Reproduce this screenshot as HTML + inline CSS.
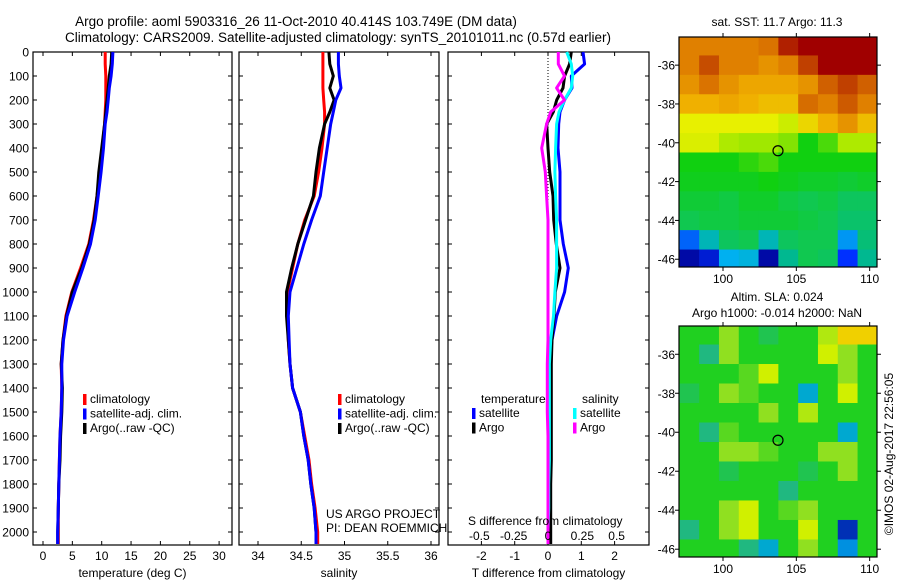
<!DOCTYPE html>
<html><head><meta charset="utf-8">
<style>
html,body{margin:0;padding:0;background:#fff;}
svg{display:block;font-family:"Liberation Sans",sans-serif;}
text{font-size:12px;fill:#000;}
</style></head>
<body>
<svg id="fig" width="900" height="580" viewBox="0 0 900 580">
<text x="296" y="26" text-anchor="middle" style="font-size:13.5px">Argo profile: aoml 5903316_26 11-Oct-2010 40.414S 103.749E (DM data)</text>
<text x="338" y="42" text-anchor="middle" style="font-size:13.5px">Climatology: CARS2009. Satellite-adjusted climatology: synTS_20101011.nc (0.57d earlier)</text>
<g id="g1"></g>
<g id="g2"></g>
<g id="g3"></g>
<g id="m1"></g>
<g id="m2"></g>
<text x="777" y="26" text-anchor="middle">sat. SST: 11.7 Argo: 11.3</text>
<text x="777" y="301" text-anchor="middle">Altim. SLA: 0.024</text>
<text x="777" y="317" text-anchor="middle">Argo h1000: -0.014 h2000: NaN</text>
<text transform="translate(893,454) rotate(-90)" text-anchor="middle">©IMOS 02-Aug-2017 22:56:05</text>
</svg>
<script>
// ---- profile data ----
const depths = [0,50,100,150,200,250,300,400,500,600,700,800,900,1000,1100,1200,1300,1400,1500,1600,1700,1800,1900,2000,2050];
const tempClim = [10.6,10.6,10.7,10.7,10.7,10.6,10.5,10.1,9.7,9.2,8.6,7.8,6.4,4.9,3.9,3.4,3.1,3.2,3.1,2.9,2.8,2.7,2.6,2.6,2.6];
const tempSat  = [11.9,11.8,11.6,11.3,11.1,10.9,10.6,10.3,9.9,9.4,8.9,8.1,6.8,5.4,4.1,3.5,3.2,3.2,3.1,2.9,2.8,2.7,2.6,2.5,2.5];
const tempArgo = [11.7,11.6,11.3,11.1,10.9,10.7,10.5,10.0,9.5,9.2,8.7,7.9,6.6,5.0,4.0,3.4,3.1,3.3,3.2,3.0,2.9,2.7,2.6,2.5,2.5];
const salClim = [34.75,34.75,34.75,34.75,34.76,34.77,34.77,34.74,34.70,34.65,34.54,34.46,34.40,34.34,34.34,34.35,34.37,34.40,34.49,34.54,34.59,34.62,34.66,34.69,34.69];
const salSat  = [34.93,34.93,34.94,34.96,34.90,34.87,34.84,34.80,34.76,34.72,34.62,34.53,34.45,34.37,34.35,34.36,34.37,34.40,34.49,34.53,34.58,34.61,34.65,34.67,34.67];
const salArgo = [34.82,34.83,34.87,34.83,34.88,34.83,34.77,34.71,34.67,34.64,34.55,34.46,34.39,34.33,34.33,34.35,34.37,34.40,34.49,34.53,34.58,34.61,34.65,34.67,34.67];
const dTsat  = [1.05,1.1,0.7,0.72,0.5,0.36,0.32,0.3,0.36,0.36,0.36,0.46,0.61,0.5,0.26,0.12,0.05,0.03,0.02,0.02,0.01,0.01,0.01,0.0,0.0];
const dTargo = [0.7,0.65,0.5,0.45,0.26,0.16,-0.04,0.0,0.05,0.15,0.17,0.25,0.36,0.22,0.18,0.12,0.1,0.1,0.1,0.1,0.1,0.08,0.08,0.08,0.08];
const dSsat  = [0.136,0.17,0.18,0.17,0.12,0.08,0.063,0.055,0.05,0.055,0.063,0.063,0.063,0.05,0.04,0.02,0.01,0.01,0.01,0.01,0.01,0.005,0.005,0.0,0.0];
const dSargo = [0.075,0.075,0.12,0.063,0.12,0.02,-0.01,-0.046,-0.02,-0.01,0.0,0.0,0.0,0.0,0.0,0.0,-0.005,-0.005,-0.005,0.0,0.0,0.0,0.0,0.0,0.0];
const depthTicks = [0,100,200,300,400,500,600,700,800,900,1000,1100,1200,1300,1400,1500,1600,1700,1800,1900,2000];
const tempTicks = [0,5,10,15,20,25,30];
const salTicks = [34,34.5,35,35.5,36];
const dTTicks = [-2,-1,0,1,2];
const dSTicks = [-0.5,-0.25,0,0.25,0.5];
// ---- map data (rows: lat -35..-46, cols: lon 97.7..109.8) ----
const mapLats = [-35,-36,-37,-38,-39,-40,-41,-42,-43,-44,-45,-46];
const mapLons = [97.7,99.05,100.4,101.75,103.1,104.45,105.8,107.15,108.5,109.85];
const sstGrid = [
 [13,13,13,13,13.2,14.5,15,15,15,15],
 [13,13.8,13,13,12.8,13,14,15,15,15],
 [12.8,13.2,12.8,12.6,12.6,12.6,12.8,13.5,14,13.5],
 [12.5,12.5,12.6,12.5,12.4,12.4,13.3,13,13.6,13],
 [12,12,12,12,12,11.8,12.2,12.5,12.8,12.4],
 [11.9,11.9,11.6,11.5,11.5,11.4,11,11.2,11.6,11.6],
 [11,11,11,11.1,11.2,11,11,11,11,11],
 [10.9,10.9,10.9,10.9,11,10.9,10.8,10.8,10.7,10.8],
 [10.7,10.7,10.6,10.8,10.8,10.6,10.5,10.6,10.4,10.4],
 [10.5,10.6,10.6,10.7,10.7,10.7,10.6,10.5,10.3,10.3],
 [9.2,9.8,10.4,10.5,9.8,10.4,10.5,10.5,9.4,10.2],
 [8.6,8.8,9.5,9.6,8.6,10,10.5,10.4,9,10]];
const slaGrid = [
 [0,0,0.1,0,-0.05,0,0,0.15,0.3,0.3],
 [0,-0.1,0.1,0,0,0,0,0.2,0.1,0],
 [0,0,0,0.05,0.2,0,0,0,0.1,0],
 [-0.05,0,0.1,0.05,0,0,-0.25,0,0.2,0],
 [0,0,0,0,0.1,0,0.15,0,0,0],
 [0,-0.1,0.05,0,0,0,0,0,-0.25,0],
 [0,0,0.1,0.1,0.05,0,0,0.1,0.1,0],
 [0,0,-0.05,0,0,0,-0.05,0,0.1,0],
 [0,0,0,0,0,-0.1,0,0,0,0],
 [0,0,0.1,0.2,0,0.05,0.1,0,0,0],
 [-0.1,0,0.1,0.2,0,0,0.2,0,-0.4,0],
 [0,0,0,-0.1,-0.25,0,0.1,0,-0.3,0]];
const argoLon = 103.75, argoLat = -40.41;
const lonTicks = [100,105,110];
const latTicks = [-36,-38,-40,-42,-44,-46];

const NS='http://www.w3.org/2000/svg';
function mk(parent,tag,attrs,txt){const e=document.createElementNS(NS,tag);for(const k in attrs)e.setAttribute(k,attrs[k]);if(txt!==undefined)e.textContent=txt;parent.appendChild(e);return e;}
const yD = d => 52 + d*0.24;
const PT=52, PB=545;

function panel(g,x0,x1,xs,xticks,xlabel,showDepth){
  const box=mk(g,'rect',{x:x0,y:PT,width:x1-x0,height:PB-PT,fill:'none',stroke:'#000','stroke-width':1.2});
  
  
  xticks.forEach(v=>{const x=xs(v);
    mk(g,'line',{x1:x,x2:x,y1:PT,y2:PT+4,stroke:'#000'});
    mk(g,'line',{x1:x,x2:x,y1:PB,y2:PB-4,stroke:'#000'});
    if(xlabel){const t=mk(g,'text',{x:x,y:560,'text-anchor':'middle'},String(v));
      
      }
  });
  depthTicks.forEach(d=>{const y=yD(d);
    mk(g,'line',{x1:x0,x2:x0+4,y1:y,y2:y,stroke:'#000'});
    mk(g,'line',{x1:x1,x2:x1-4,y1:y,y2:y,stroke:'#000'});
    if(showDepth){const t=mk(g,'text',{x:29,y:y+4.5,'text-anchor':'end'},String(d));
      
      }
  });
  if(xlabel){const t=mk(g,'text',{x:(x0+x1)/2,y:577,'text-anchor':'middle'},xlabel);
    
    }
}
function line(g,vals,xs,color,name,w){
  const pts=vals.map((v,i)=>xs(v).toFixed(1)+','+yD(depths[i]).toFixed(1)).join(' ');
  const p=mk(g,'polyline',{points:pts,fill:'none',stroke:color,'stroke-width':w||3,'stroke-linejoin':'round'});
  
  
}
function legend(g,x,y,items){
  items.forEach((it,i)=>{
    mk(g,'rect',{x:x,y:y+i*14.5-9,width:3.5,height:11,fill:it[1]});
    const t=mk(g,'text',{x:x+7,y:y+i*14.5},it[0]);
    
    
  });
}
// Panel 1
const g1=document.getElementById('g1');
const xT=v=>43+v*5.87;
panel(g1,33,232,xT,tempTicks,'temperature (deg C)',true);
line(g1,tempClim,xT,'#ff0000','temp-climatology-line');
line(g1,tempArgo,xT,'#000000','temp-argo-line');
line(g1,tempSat,xT,'#0000ff','temp-satellite-line');
legend(g1,83,403,[['climatology','#f00'],['satellite-adj. clim.','#00f'],['Argo(..raw -QC)','#000']]);
// Panel 2
const g2=document.getElementById('g2');
const xS=v=>258+(v-34)*86.5;
panel(g2,239,439,xS,salTicks,'salinity',false);
line(g2,salClim,xS,'#ff0000','sal-climatology-line');
line(g2,salArgo,xS,'#000000','sal-argo-line');
line(g2,salSat,xS,'#0000ff','sal-satellite-line');
legend(g2,338,403,[['climatology','#f00'],['satellite-adj. clim.','#00f'],['Argo(..raw -QC)','#000']]);
let t=mk(g2,'text',{x:326,y:518},'US ARGO PROJECT');


t=mk(g2,'text',{x:326,y:532},'PI: DEAN ROEMMICH');


// Panel 3
const g3=document.getElementById('g3');
const xDT=v=>548+v*33.3;
const xDS=v=>548+v*137.3;
panel(g3,448,649,xDT,dTTicks,'T difference from climatology',false);
mk(g3,'line',{x1:548,x2:548,y1:PT,y2:270,stroke:'#000','stroke-dasharray':'1,2'});
line(g3,dTsat,xDT,'#0000ff','dT-satellite-line');
line(g3,dTargo,xDT,'#000000','dT-argo-line',3);
line(g3,dSsat,xDS,'#00ffff','dS-satellite-line');
line(g3,dSargo,xDS,'#ff00ff','dS-argo-line');
t=mk(g3,'text',{x:468,y:525},'S difference from climatology');


dSTicks.forEach(v=>{const tt=mk(g3,'text',{x:xDS(v),y:540,'text-anchor':'middle'},String(v));
  
  });
t=mk(g3,'text',{x:481,y:403},'temperature');


t=mk(g3,'text',{x:582,y:403},'salinity');


legend(g3,472,417,[['satellite','#00f'],['Argo','#000']]);
legend(g3,573,417,[['satellite','#0ff'],['Argo','#f0f']]);

// Maps
function lerpColor(stops,v){
  if(v<=stops[0][0])return stops[0][1];
  for(let i=1;i<stops.length;i++){if(v<=stops[i][0]){const a=stops[i-1],b=stops[i];const f=(v-a[0])/(b[0]-a[0]);
    return [0,1,2].map(k=>Math.round(a[1][k]+(b[1][k]-a[1][k])*f));}}
  return stops[stops.length-1][1];
}
const sstStops=[[8.5,[0,0,144]],[9,[0,48,255]],[9.5,[0,176,240]],[10,[0,184,144]],[10.5,[16,200,80]],[11,[16,208,16]],[11.5,[160,232,0]],[12,[232,240,0]],[12.5,[240,176,0]],[13,[224,128,0]],[14,[192,64,0]],[15,[160,0,0]]];
const slaStops=[[-0.45,[0,0,160]],[-0.3,[0,144,224]],[-0.2,[0,192,192]],[-0.1,[32,184,128]],[0,[32,208,32]],[0.1,[144,224,32]],[0.2,[208,240,0]],[0.3,[240,208,0]]];
function map(id,top,bottom,grid,stops,cellName){
  const g=document.getElementById(id);
  const L=679,R=877,lon0=97.0,lon1=110.5,lat0=-34.55,lat1=-46.4;
  const xs=v=>L+(v-lon0)/(lon1-lon0)*(R-L);
  const ys=v=>top+(v-lat0)/(lat1-lat0)*(bottom-top);
  const dLon=mapLons[1]-mapLons[0];
  grid.forEach((row,r)=>row.forEach((v,c)=>{
    let xa=xs(mapLons[c]-dLon/2),xb=xs(mapLons[c]+dLon/2);
    let ya=ys(mapLats[r]+0.5),yb=ys(mapLats[r]-0.5);
    xa=Math.max(xa,L);xb=Math.min(xb,R);ya=Math.max(ya,top);yb=Math.min(yb,bottom);
    const col=lerpColor(stops,v);
    const cell=mk(g,'rect',{x:xa,y:ya,width:xb-xa+0.5,height:yb-ya+0.5,fill:'rgb('+col.join(',')+')'});
    
    
  }));
  const b=mk(g,'rect',{x:L,y:top,width:R-L,height:bottom-top,fill:'none',stroke:'#000','stroke-width':1.2});
  
  
  lonTicks.forEach(v=>{const x=xs(v);
    mk(g,'line',{x1:x,x2:x,y1:top,y2:top-4,stroke:'#000'});
    mk(g,'line',{x1:x,x2:x,y1:bottom,y2:bottom+4,stroke:'#000'});
    const tt=mk(g,'text',{x:x,y:bottom+16,'text-anchor':'middle'},String(v));
    
    });
  latTicks.forEach(v=>{const y=ys(v);
    mk(g,'line',{x1:L,x2:L-4,y1:y,y2:y,stroke:'#000'});
    mk(g,'line',{x1:R,x2:R+4,y1:y,y2:y,stroke:'#000'});
    const tt=mk(g,'text',{x:675,y:y+4.5,'text-anchor':'end'},String(v));
    
    });
  const c=mk(g,'circle',{cx:xs(argoLon),cy:ys(argoLat),r:5,fill:'none',stroke:'#000','stroke-width':1.2});
  
  
}
map('m1',37,267,sstGrid,sstStops,'sst-cell');
map('m2',326,557,slaGrid,slaStops,'sla-cell');
</script>
</body></html>
